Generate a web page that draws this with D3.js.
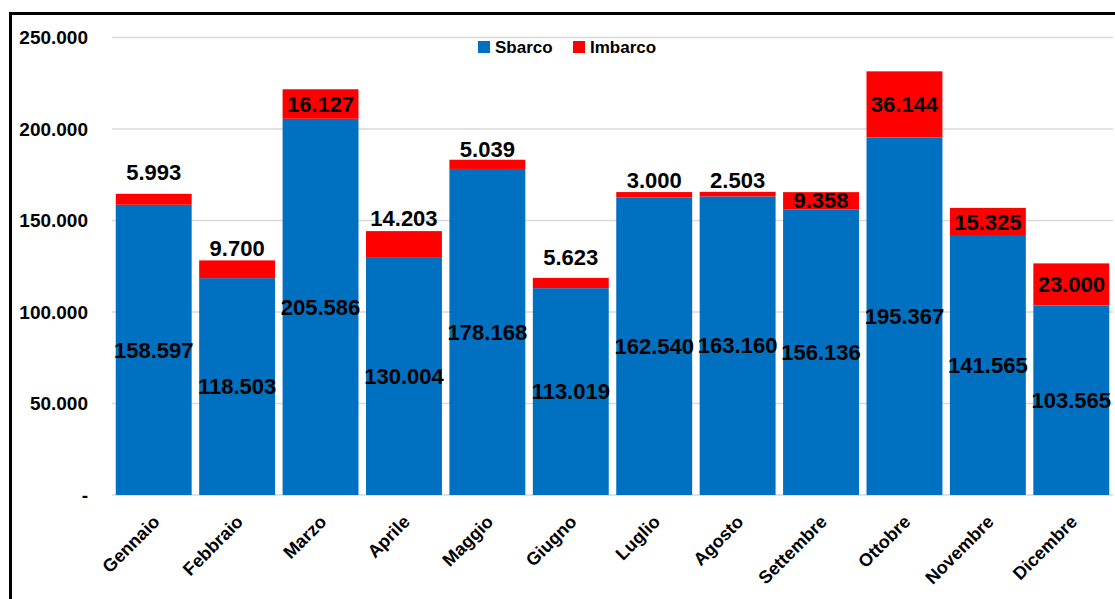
<!DOCTYPE html>
<html>
<head>
<meta charset="utf-8">
<script src="https://cdn.jsdelivr.net/npm/d3@7"></script>
<style>
  body { margin: 0; background: #fff; }
  text { font-family: "Liberation Sans", Arial, sans-serif; font-weight: bold; fill: #000; }
</style>
</head>
<body>
<svg class="chart" width="1115" height="599"></svg>
<script>
var months = ["Gennaio", "Febbraio", "Marzo", "Aprile", "Maggio", "Giugno",
  "Luglio", "Agosto", "Settembre", "Ottobre", "Novembre", "Dicembre"];
var sbarco = [158597, 118503, 205586, 130004, 178168, 113019,
  162540, 163160, 156136, 195367, 141565, 103565];
var imbarco = [5993, 9700, 16127, 14203, 5039, 5623,
  3000, 2503, 9358, 36144, 15325, 23000];
var yTicks = [0, 50000, 100000, 150000, 200000, 250000];
var seriesNames = ["Sbarco", "Imbarco"];

// layout only: how far the small Imbarco labels sit above the bar (0 = centred inside)
var imbLift = [22, 12, 0, 13, 10, 21, 12, 12, 0, 0, 0, 0];

var colors = { Sbarco: "#0070C0", Imbarco: "#FF0000" };
var fmt = function(v) {
  return v === 0 ? "-" : d3.format(",")(v).replace(/,/g, ".");
};

var svg = d3.select(".chart");
var plotL = 112, plotR = 1113, plotT = 37.5, plotB = 495;

var x = d3.scaleBand().domain(months).range([plotL, plotR]).paddingInner(0.09).paddingOuter(0.045);
var y = d3.scaleLinear().domain([0, 250000]).range([plotB, plotT]);

// frame
svg.append("rect")
  .attr("x", 10.5).attr("y", 13.5)
  .attr("width", 1110).attr("height", 600)
  .attr("fill", "none").attr("stroke", "#000").attr("stroke-width", 3);

// gridlines
svg.append("g").selectAll("line").data(yTicks).join("line")
  .attr("x1", plotL).attr("x2", plotR)
  .attr("y1", function(d) { return y(d); })
  .attr("y2", function(d) { return y(d); })
  .attr("stroke", "#d9d9d9").attr("stroke-width", 1.5);

// y labels
svg.append("g").selectAll("text").data(yTicks).join("text")
  .attr("x", 88)
  .attr("y", function(d) { return y(d); })
  .attr("dy", "0.35em")
  .attr("text-anchor", "end")
  .style("font-size", "19px")
  .text(fmt);

var data = months.map(function(m, i) {
  return { month: m, sb: sbarco[i], im: imbarco[i], lift: imbLift[i] };
});

var g = svg.append("g");
g.selectAll(".sb").data(data).join("rect")
  .attr("class", "sb")
  .attr("x", function(d) { return x(d.month); })
  .attr("width", x.bandwidth())
  .attr("y", function(d) { return y(d.sb); })
  .attr("height", function(d) { return y(0) - y(d.sb); })
  .attr("fill", colors.Sbarco);

g.selectAll(".im").data(data).join("rect")
  .attr("class", "im")
  .attr("x", function(d) { return x(d.month); })
  .attr("width", x.bandwidth())
  .attr("y", function(d) { return y(d.sb + d.im); })
  .attr("height", function(d) { return y(d.sb) - y(d.sb + d.im); })
  .attr("fill", colors.Imbarco);

// data labels
g.selectAll(".lsb").data(data).join("text")
  .attr("class", "lsb")
  .attr("x", function(d) { return x(d.month) + x.bandwidth() / 2; })
  .attr("y", function(d) { return (y(0) + y(d.sb)) / 2; })
  .attr("dy", "0.35em")
  .attr("text-anchor", "middle")
  .style("font-size", "22px")
  .text(function(d) { return fmt(d.sb); });

g.selectAll(".lim").data(data).join("text")
  .attr("class", "lim")
  .attr("x", function(d) { return x(d.month) + x.bandwidth() / 2; })
  .attr("y", function(d) {
    if (d.lift) return y(d.sb + d.im) - d.lift;
    return (y(d.sb) + y(d.sb + d.im)) / 2;
  })
  .attr("dy", "0.35em")
  .attr("text-anchor", "middle")
  .style("font-size", "22px")
  .text(function(d) { return fmt(d.im); });

// x labels
svg.append("g").selectAll("text").data(months).join("text")
  .attr("transform", function(d) {
    return "translate(" + (x(d) + x.bandwidth() / 2 + 7) + "," + 523 + ") rotate(-45)";
  })
  .attr("text-anchor", "end")
  .style("font-size", "18px")
  .text(function(d) { return d; });

// legend
var legX = [478, 573];
var leg = svg.append("g").selectAll("g").data(seriesNames).join("g")
  .attr("transform", function(d, i) { return "translate(" + legX[i] + ",41)"; });
leg.append("rect").attr("width", 12).attr("height", 12)
  .attr("fill", function(d) { return colors[d]; });
leg.append("text").attr("x", 17).attr("y", 12)
  .style("font-size", "17px")
  .text(function(d) { return d; });
</script>
</body>
</html>
